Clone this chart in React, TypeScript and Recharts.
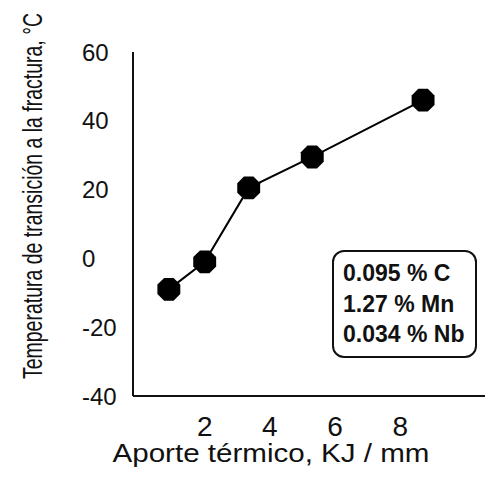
import { LineChart, Line, XAxis, YAxis, Label } from 'recharts';

const heatInput = [0.9, 2.0, 3.35, 5.3, 8.7];
const transitionTemp = [-9, -1, 20.5, 29.5, 46];
const xTicks = [2, 4, 6, 8];
const yTicks = [-40, -20, 0, 20, 40, 60];
const compositionLines = ['0.095 % C', '1.27 % Mn', '0.034 % Nb'];
const xTitle = 'Aporte térmico, KJ / mm';
const yTitle = 'Temperatura de transición a la fractura, °C';

const FONT = '"Liberation Sans", Arial, sans-serif';
const INK = '#111';

const data = heatInput.map((x, i) => ({ x, temp: transitionTemp[i] }));

// octagon marker, flat sides top/bottom like the scanned figure
const Octagon = (props: any) => {
  const { cx, cy } = props;
  if (cx == null || cy == null) return null;
  const r = 12.4;
  const pts = Array.from({ length: 8 }, (_, i) => {
    const a = Math.PI / 8 + (i * Math.PI) / 4;
    return `${cx + r * Math.cos(a)},${cy + r * Math.sin(a)}`;
  }).join(' ');
  return <polygon points={pts} fill="#000" />;
};

const YTick = (props: any) => (
  <text
    x={props.x - 51}
    y={props.y}
    textAnchor="start"
    dominantBaseline="central"
    fontSize={24}
    fontFamily={FONT}
    fill={INK}
  >
    {props.payload.value}
  </text>
);

const XTick = (props: any) => (
  <text x={props.x} y={props.y + 40} textAnchor="middle" fontSize={28} fontFamily={FONT} fill={INK}>
    {props.payload.value}
  </text>
);

const YTitle = (props: any) => {
  const vb = props.viewBox;
  const cx = vb.x + 33;
  const cy = vb.y + vb.height / 2 - 28;
  return (
    <text
      x={cx}
      y={cy}
      transform={`rotate(-90, ${cx}, ${cy})`}
      textAnchor="middle"
      dominantBaseline="central"
      fontSize={27}
      fontFamily={FONT}
      fill={INK}
      textLength={366}
      lengthAdjust="spacingAndGlyphs"
    >
      {yTitle}
    </text>
  );
};

const XTitle = (props: any) => {
  const vb = props.viewBox;
  return (
    <text
      x={vb.x + vb.width / 2 - 38}
      y={vb.y + 66}
      textAnchor="middle"
      fontSize={26}
      fontFamily={FONT}
      fill={INK}
      textLength={317}
      lengthAdjust="spacingAndGlyphs"
    >
      {xTitle}
    </text>
  );
};

export default function App() {
  return (
    <div style={{ position: 'absolute', left: 0, top: 0, width: 485, height: 477, background: '#fff' }}>
      <LineChart width={485} height={477} data={data} margin={{ top: 52, right: 0, bottom: 0, left: 0 }}>
        <XAxis
          type="number"
          dataKey="x"
          domain={[-0.2, 10.6]}
          ticks={xTicks}
          allowDataOverflow
          height={81}
          tickLine={false}
          tickSize={0}
          tickMargin={0}
          axisLine={{ stroke: INK, strokeWidth: 2 }}
          tick={<XTick />}
        >
          <Label content={<XTitle />} />
        </XAxis>
        <YAxis
          type="number"
          domain={[-40, 60]}
          ticks={yTicks}
          interval={0}
          width={133}
          tickLine={false}
          tickSize={0}
          tickMargin={0}
          axisLine={{ stroke: INK, strokeWidth: 2 }}
          tick={<YTick />}
        >
          <Label content={<YTitle />} />
        </YAxis>
        <Line
          dataKey="temp"
          stroke="#000"
          strokeWidth={2}
          dot={(p: any) => <Octagon key={p.index} {...p} />}
          activeDot={false}
          isAnimationActive={false}
        />
      </LineChart>
      <div
        style={{
          position: 'absolute',
          left: 332,
          top: 250,
          width: 145,
          height: 108,
          boxSizing: 'border-box',
          border: `2px solid ${INK}`,
          borderRadius: 12,
          paddingTop: 6,
          paddingLeft: 9,
          fontFamily: FONT,
          fontWeight: 'bold',
          fontSize: 23,
          lineHeight: '30.5px',
          color: INK,
          background: '#fff',
        }}
      >
        {compositionLines.map((t) => (
          <div key={t} style={{ whiteSpace: 'nowrap' }}>
            {t}
          </div>
        ))}
      </div>
    </div>
  );
}
